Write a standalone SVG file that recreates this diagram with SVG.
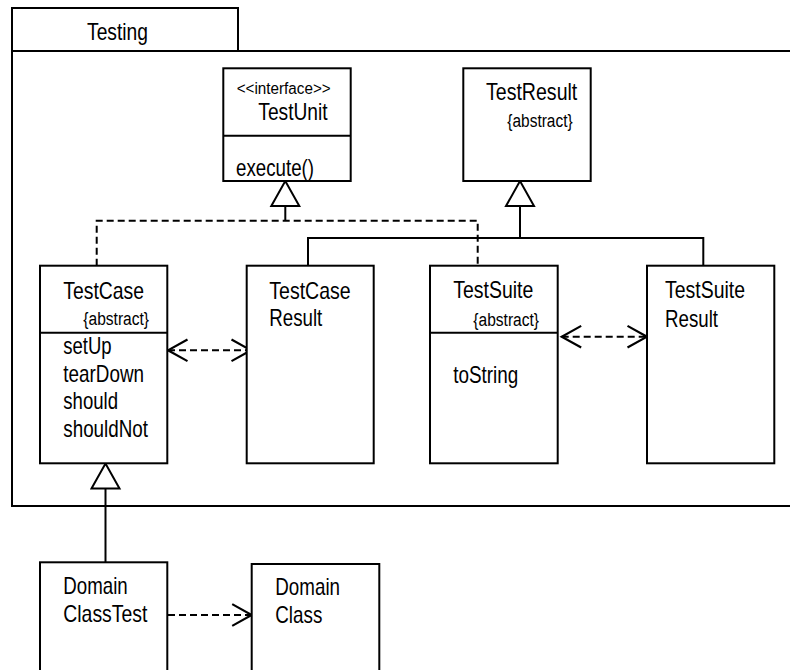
<svg xmlns="http://www.w3.org/2000/svg" width="790" height="670" viewBox="0 0 790 670">
<defs>
<style>
.box{fill:#fff;stroke:#000;stroke-width:2}
.ln{fill:none;stroke:#000;stroke-width:2}
.dash{stroke-dasharray:7 4}
.t{font-family:"Liberation Sans",Arial,sans-serif;font-size:24px;fill:#000}
.s{font-size:18px}
.xs{font-size:16px}
</style>
<marker id="gen" markerUnits="userSpaceOnUse" markerWidth="32" markerHeight="32" viewBox="-2 -16 30 32" refX="25" refY="0" orient="auto">
<path d="M0,-14 L25,0 L0,14 Z" fill="#fff" stroke="#000" stroke-width="2"/>
</marker>
<marker id="open" markerUnits="userSpaceOnUse" markerWidth="24" markerHeight="26" viewBox="-2 -12 22 24" refX="18" refY="0" orient="auto-start-reverse">
<path d="M0,-10 L18,0 L0,10" fill="none" stroke="#000" stroke-width="2"/>
</marker>
</defs>
<rect width="790" height="670" fill="#fff"/>

<g id="package-Testing">
<rect class="box" x="12" y="51" width="790" height="455"/>
<rect class="box" x="12" y="8" width="226" height="43"/>
<text class="t" x="87" y="40" textLength="61" lengthAdjust="spacingAndGlyphs">Testing</text>
</g>

<g id="connectors">
<path class="ln dash" d="M96.7,265.7 V220.7 H477.7 V265.7"/>
<path class="ln" d="M285.3,220.7 V181" marker-end="url(#gen)"/>
<path class="ln" d="M308,265.7 V238 H703.3 V265.7"/>
<path class="ln" d="M520,238 V181" marker-end="url(#gen)"/>
<path class="ln" d="M105.5,562.3 V463.5" marker-end="url(#gen)"/>
<path class="ln dash" d="M168,350.3 H251" marker-start="url(#open)" marker-end="url(#open)"/>
<path class="ln dash" d="M561.7,336.7 H647" marker-start="url(#open)" marker-end="url(#open)"/>
<path class="ln dash" d="M168,615 H251.7" marker-end="url(#open)"/>
</g>

<g id="TestUnit">
<rect class="box" x="223.3" y="68.3" width="127.4" height="112.7"/>
<line class="ln" x1="223.3" y1="135.7" x2="350.7" y2="135.7"/>
<text class="t xs" x="236.7" y="93.5" textLength="94" lengthAdjust="spacingAndGlyphs">&lt;&lt;interface&gt;&gt;</text>
<text class="t" x="258.3" y="120" textLength="69.3" lengthAdjust="spacingAndGlyphs">TestUnit</text>
<text class="t" x="236" y="175.7" textLength="78" lengthAdjust="spacingAndGlyphs">execute()</text>
</g>

<g id="TestResult">
<rect class="box" x="463.3" y="68.3" width="127.4" height="112.7"/>
<text class="t" x="486" y="100" textLength="91.3" lengthAdjust="spacingAndGlyphs">TestResult</text>
<text class="t s" x="507.3" y="127" textLength="65.4" lengthAdjust="spacingAndGlyphs">{abstract}</text>
</g>

<g id="TestCase">
<rect class="box" x="40" y="265.7" width="127.3" height="197.6"/>
<line class="ln" x1="40" y1="332.7" x2="167.3" y2="332.7"/>
<text class="t" x="63.3" y="298.7" textLength="80.7" lengthAdjust="spacingAndGlyphs">TestCase</text>
<text class="t s" x="83.3" y="325" textLength="65.7" lengthAdjust="spacingAndGlyphs">{abstract}</text>
<text class="t" x="63.3" y="354.3" textLength="48.3" lengthAdjust="spacingAndGlyphs">setUp</text>
<text class="t" x="63.3" y="381.7" textLength="80.7" lengthAdjust="spacingAndGlyphs">tearDown</text>
<text class="t" x="63.3" y="409.3" textLength="54.7" lengthAdjust="spacingAndGlyphs">should</text>
<text class="t" x="63.3" y="437.3" textLength="84.7" lengthAdjust="spacingAndGlyphs">shouldNot</text>
</g>

<g id="TestCaseResult">
<rect class="box" x="246.7" y="265.7" width="127" height="197.6"/>
<text class="t" x="269.3" y="298.7" textLength="81.4" lengthAdjust="spacingAndGlyphs">TestCase</text>
<text class="t" x="269.3" y="326" textLength="53" lengthAdjust="spacingAndGlyphs">Result</text>
</g>

<g id="TestSuite">
<rect class="box" x="430" y="265.7" width="127.7" height="197.6"/>
<line class="ln" x1="430" y1="332.7" x2="557.7" y2="332.7"/>
<text class="t" x="453.3" y="298.3" textLength="80" lengthAdjust="spacingAndGlyphs">TestSuite</text>
<text class="t s" x="473.3" y="325.5" textLength="65.7" lengthAdjust="spacingAndGlyphs">{abstract}</text>
<text class="t" x="453.3" y="382.7" textLength="65" lengthAdjust="spacingAndGlyphs">toString</text>
</g>

<g id="TestSuiteResult">
<rect class="box" x="647" y="265.7" width="127.3" height="197.6"/>
<text class="t" x="665" y="298.3" textLength="80" lengthAdjust="spacingAndGlyphs">TestSuite</text>
<text class="t" x="665" y="326.7" textLength="53" lengthAdjust="spacingAndGlyphs">Result</text>
</g>

<g id="DomainClassTest">
<rect class="box" x="40" y="562.3" width="127.3" height="130"/>
<text class="t" x="63.3" y="594.3" textLength="64.4" lengthAdjust="spacingAndGlyphs">Domain</text>
<text class="t" x="63.3" y="622.3" textLength="84" lengthAdjust="spacingAndGlyphs">ClassTest</text>
</g>

<g id="DomainClass">
<rect class="box" x="251.7" y="564" width="127.6" height="130"/>
<text class="t" x="275.3" y="595" textLength="64.7" lengthAdjust="spacingAndGlyphs">Domain</text>
<text class="t" x="275.3" y="623.3" textLength="47" lengthAdjust="spacingAndGlyphs">Class</text>
</g>
</svg>
